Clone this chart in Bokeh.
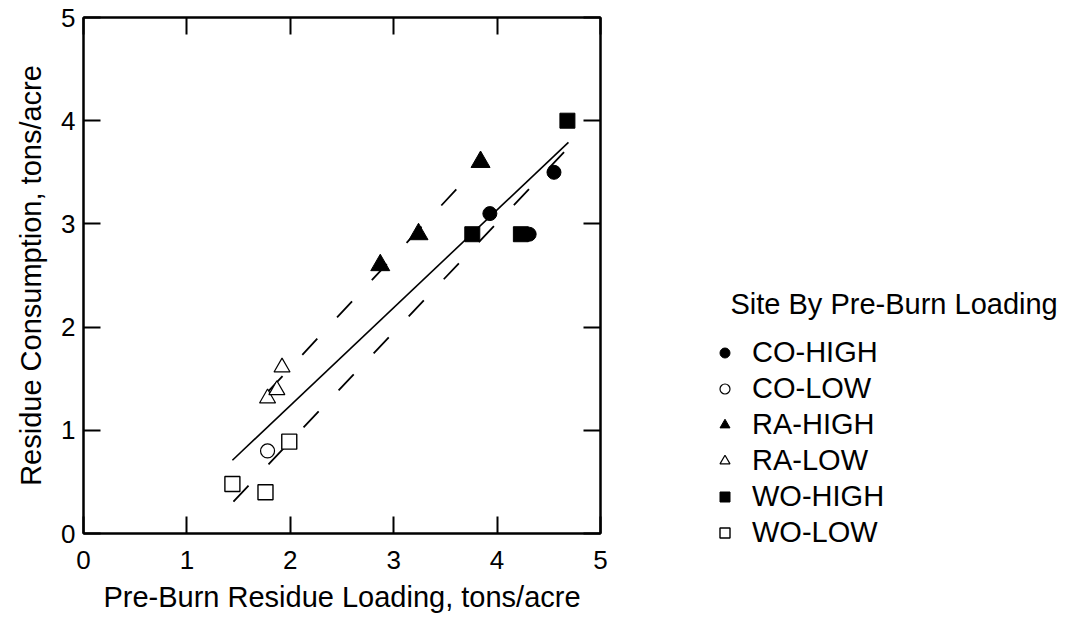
from bokeh.plotting import figure
from bokeh.layouts import row, column
from bokeh.models import Range1d, LinearAxis, FixedTicker, Legend, LegendItem, Label
from bokeh.embed import file_html
from bokeh.resources import INLINE

# ---- data ----
co_high_x = [3.93, 4.55, 4.31]
co_high_y = [3.10, 3.50, 2.90]
co_low_x = [1.78]
co_low_y = [0.80]
ra_high_x = [2.87, 3.24, 3.84]
ra_high_y = [2.60, 2.90, 3.60]
ra_low_x = [1.78, 1.87, 1.92]
ra_low_y = [1.31, 1.39, 1.61]
wo_high_x = [3.76, 4.23, 4.68]
wo_high_y = [2.90, 2.90, 4.00]
wo_low_x = [1.44, 1.76, 1.99]
wo_low_y = [0.48, 0.40, 0.89]

fit_x = [1.44, 4.69]
fit_y = [0.71, 3.79]
upper_x = [1.78, 3.62]
upper_y = [1.37, 3.35]
lower_x = [1.45, 4.68]
lower_y = [0.31, 3.73]

ticks = [0, 1, 2, 3, 4, 5]
x_title = "Pre-Burn Residue Loading, tons/acre"
y_title = "Residue Consumption, tons/acre"
legend_title = "Site By Pre-Burn Loading"
series_names = ["CO-HIGH", "CO-LOW", "RA-HIGH", "RA-LOW", "WO-HIGH", "WO-LOW"]

FONT = "Liberation Sans"

p = figure(width=620, height=617, x_range=Range1d(0, 5), y_range=Range1d(0, 5),
           output_backend="svg", toolbar_location=None,
           min_border_left=83, min_border_right=20, min_border_top=17, min_border_bottom=84)
p.grid.visible = False
p.outline_line_color = "black"
p.outline_line_width = 2
p.background_fill_color = "white"
p.border_fill_color = "white"

def style_axis(ax, labels=True):
    ax.ticker = FixedTicker(ticks=ticks)
    ax.axis_line_color = "black"
    ax.axis_line_width = 2
    ax.major_tick_line_color = "black"
    ax.major_tick_line_width = 2
    ax.major_tick_in = 17
    ax.major_tick_out = 0
    ax.minor_tick_in = 0
    ax.minor_tick_out = 0
    ax.minor_tick_line_color = None
    ax.major_label_text_font = FONT
    ax.major_label_text_font_size = "26px"
    ax.major_label_text_color = "black"
    if labels:
        ax.axis_label_text_font = FONT
        ax.axis_label_text_font_size = "29px"
        ax.axis_label_text_font_style = "normal"
        ax.axis_label_text_color = "black"
    else:
        ax.major_label_overrides = {t: "" for t in ticks}
        ax.major_label_standoff = 0

style_axis(p.xaxis[0])
style_axis(p.yaxis[0])
p.xaxis[0].axis_label = x_title
p.yaxis[0].axis_label = y_title
p.xaxis[0].major_label_standoff = 17
p.yaxis[0].major_label_standoff = 8
p.xaxis[0].axis_label_standoff = 9
p.yaxis[0].axis_label_standoff = 11

top_ax = LinearAxis()
right_ax = LinearAxis()
style_axis(top_ax, labels=False)
style_axis(right_ax, labels=False)
p.add_layout(top_ax, "above")
p.add_layout(right_ax, "right")

# lines
p.line(fit_x, fit_y, line_color="black", line_width=1.6)
p.line(upper_x, upper_y, line_color="black", line_width=1.8, line_dash="22 29")
p.line(lower_x, lower_y, line_color="black", line_width=1.8, line_dash="22 29")

# points
styles = {
    "CO-HIGH": dict(marker="circle", size=14, fill_color="black", line_color="black", line_width=1),
    "CO-LOW": dict(marker="circle", size=14, fill_color="white", line_color="black", line_width=1.2),
    "RA-HIGH": dict(marker="triangle", size=19, fill_color="black", line_color="black", line_width=1),
    "RA-LOW": dict(marker="triangle", size=16, fill_color="white", line_color="black", line_width=1.2),
    "WO-HIGH": dict(marker="square", size=15, fill_color="black", line_color="black", line_width=1),
    "WO-LOW": dict(marker="square", size=15, fill_color="white", line_color="black", line_width=1.4),
}
data = {
    "CO-HIGH": (co_high_x, co_high_y),
    "CO-LOW": (co_low_x, co_low_y),
    "RA-HIGH": (ra_high_x, ra_high_y),
    "RA-LOW": (ra_low_x, ra_low_y),
    "WO-HIGH": (wo_high_x, wo_high_y),
    "WO-LOW": (wo_low_x, wo_low_y),
}
for name in ["WO-HIGH", "CO-HIGH", "CO-LOW", "RA-HIGH", "RA-LOW", "WO-LOW"]:
    xs, ys = data[name]
    p.scatter(xs, ys, **styles[name])

# ---- legend panel (separate canvas so it is not clipped by the plot frame) ----
q = figure(width=451, height=617, x_range=Range1d(0, 1), y_range=Range1d(0, 1),
           output_backend="svg", toolbar_location=None,
           x_axis_type=None, y_axis_type=None,
           min_border_left=0, min_border_right=0, min_border_top=0, min_border_bottom=0)
q.grid.visible = False
q.outline_line_color = None
q.background_fill_color = "white"
q.border_fill_color = "white"

items = []
for name in series_names:
    xs, ys = data[name]
    r = q.scatter(xs, ys, **styles[name])
    r.visible = False
    items.append(LegendItem(label=name, renderers=[r]))

legend = Legend(items=items, location=(92, 68))
legend.label_text_font = FONT
legend.label_text_font_size = "29px"
legend.label_text_color = "black"
legend.glyph_width = 25
legend.glyph_height = 25
legend.label_standoff = 15
legend.spacing = 3
legend.padding = 0
legend.margin = 0
legend.border_line_color = None
legend.background_fill_alpha = 0
legend.inactive_fill_alpha = 0
legend.click_policy = "none"
q.add_layout(legend)

title = Label(x=110, y=314, x_units="screen", y_units="screen", text=legend_title,
              text_font=FONT, text_font_size="29px", text_color="black",
              text_align="left", text_baseline="middle")
q.add_layout(title)

layout = row(p, column(q, spacing=0), spacing=0)
open("out.html", "w").write(file_html(layout, INLINE))
